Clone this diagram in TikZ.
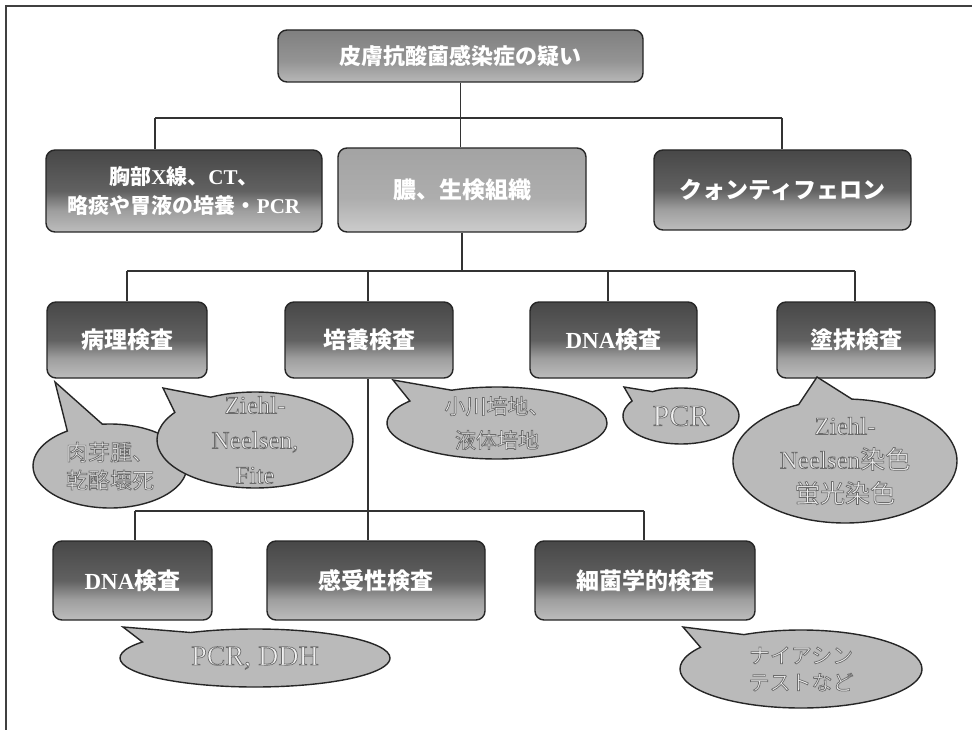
\documentclass[tikz,border=0pt]{standalone}
\usepackage{fontspec}
\setmainfont{Liberation Serif}
\newfontfamily\cjk{Noto Sans CJK JP}
\usetikzlibrary{shapes.callouts,shapes.geometric}
\newcommand\latb[1]{{\rmfamily\bfseries #1}}
\newcommand\cj[1]{{\cjk #1}}
\newcommand\outlon{\special{pdf:code q 2 Tr 0.7 w 0.42 G}}
\newcommand\outloff{\special{pdf:code Q}}
\pgfdeclareverticalshading{darkbox}{100bp}{color(0bp)=(black!26); color(25bp)=(black!26); color(38bp)=(black!38); color(50bp)=(black!62); color(75bp)=(black!72); color(100bp)=(black!72)}
\pgfdeclareverticalshading{topbox}{100bp}{color(0bp)=(black!28); color(25bp)=(black!28); color(45bp)=(black!42); color(75bp)=(black!50); color(100bp)=(black!50)}
\pgfdeclareverticalshading{midbox}{100bp}{color(0bp)=(black!20); color(25bp)=(black!20); color(45bp)=(black!32); color(75bp)=(black!36); color(100bp)=(black!36)}
\tikzset{
  box/.style={rounded corners=9pt, draw=black!85, line width=1.4pt, shade, shading=darkbox,
    text=white, align=center, inner sep=0pt,
    font=\cjk\bfseries\fontsize{23}{29}\selectfont},
  conn/.style={draw=black!80, line width=1.8pt},
  co/.style={ellipse callout, draw=black!85, line width=1.4pt, fill=black!27, inner sep=0pt, callout pointer arc=28},
  cotext/.style={align=center, inner sep=0pt, text=black!6},
}
\begin{document}
\begin{tikzpicture}[x=1pt,y=-1pt]
\useasboundingbox (0,0) rectangle (972,730);
\fill[white] (0,0) rectangle (972,730);
% frame
\draw[black!75, line width=1.5pt] (972,6) -- (6,6) -- (6,730);

% top
\node[box, shading=topbox, minimum width=365pt, minimum height=52pt, font=\cjk\bfseries\fontsize{22}{28}\selectfont] (T) at (460.5,56) {皮膚抗酸菌感染症の疑い};
% row 2
\node[box, minimum width=276pt, minimum height=82pt, font=\cjk\bfseries\fontsize{21}{29}\selectfont] (L) at (184,191) {胸部\latb{X}線、\latb{CT}、\\略痰や胃液の培養・\latb{PCR}};
\node[box, shading=midbox, minimum width=248pt, minimum height=84pt] (M) at (462,190) {膿、生検組織};
\node[box, minimum width=257pt, minimum height=80pt] (R) at (782.5,190) {クォンティフェロン};
% row 3
\node[box, minimum width=160pt, minimum height=76pt] (A) at (127,340) {病理検査};
\node[box, minimum width=168pt, minimum height=76pt] (B) at (369,340) {培養検査};
\node[box, minimum width=167pt, minimum height=76pt] (C) at (613.5,340) {\latb{DNA}検査};
\node[box, minimum width=158pt, minimum height=76pt] (D) at (856,340) {塗抹検査};
% row 4
\node[box, minimum width=159pt, minimum height=79pt] (E) at (132.5,580.5) {\latb{DNA}検査};
\node[box, minimum width=218pt, minimum height=79pt] (F) at (376,580.5) {感受性検査};
\node[box, minimum width=220pt, minimum height=79pt] (G) at (645,580.5) {細菌学的検査};

% connectors
\coordinate (j1) at (460.5,118);
\coordinate (j1l) at (155,118);
\coordinate (j1r) at (782,118);
\draw[conn] (T.south) -- (j1);
\draw[conn] (j1l) -- (j1r);
\draw[conn] (j1l) -- (j1l |- L.north);
\draw[conn] (j1) -- (j1 |- M.north);
\draw[conn] (j1r) -- (j1r |- R.north);

\coordinate (j2) at (462,271);
\coordinate (j2l) at (127,271);
\coordinate (j2r) at (855,271);
\coordinate (j2b) at (368,271);
\coordinate (j2c) at (608,271);
\draw[conn] (M.south) -- (j2);
\draw[conn] (j2l) -- (j2r);
\draw[conn] (j2l) -- (j2l |- A.north);
\draw[conn] (j2b) -- (j2b |- B.north);
\draw[conn] (j2c) -- (j2c |- C.north);
\draw[conn] (j2r) -- (j2r |- D.north);

\coordinate (j3) at (368,511);
\coordinate (j3l) at (135,511);
\coordinate (j3r) at (644,511);
\draw[conn] (j3 |- B.south) -- (j3);
\draw[conn] (j3l) -- (j3r);
\draw[conn] (j3l) -- (j3l |- E.north);
\draw[conn] (j3) -- (j3 |- F.north);
\draw[conn] (j3r) -- (j3r |- G.north);

% callouts
\node[co, minimum width=154pt, minimum height=84pt, callout absolute pointer={(55,382)}] (c1) at (110,466) {};
\node[cotext, font=\cjk\fontsize{22}{28}\selectfont] (t1) at (c1.center) {\outlon 肉芽腫、\\乾酪壊死\outloff};
\node[co, minimum width=196pt, minimum height=96pt, callout absolute pointer={(163,388)}] (c2) at (255,440) {};
\node[cotext, font=\fontsize{25}{35}\selectfont] (t2) at (c2.center) {\outlon Ziehl-\\Neelsen,\\Fite\outloff};
\node[co, minimum width=220pt, minimum height=72pt, callout absolute pointer={(393,380)}] (c3) at (497,423) {};
\node[cotext, font=\cjk\fontsize{21}{34}\selectfont] (t3) at (c3.center) {\outlon 小川培地、\\液体培地\outloff};
\node[co, minimum width=116pt, minimum height=56pt, callout absolute pointer={(624,387)}] (c4) at (681,416) {};
\node[cotext, font=\fontsize{30}{34}\selectfont] (t4) at (c4.center) {\outlon PCR\outloff};
\node[co, minimum width=224pt, minimum height=124pt, callout absolute pointer={(817,377)}] (c5) at (845,461) {};
\node[cotext, font=\fontsize{25}{34}\selectfont] (t5) at (c5.center) {\outlon Ziehl-\\Neelsen\cj{染色}\\\cj{蛍光染色}\outloff};
\node[co, minimum width=270pt, minimum height=58pt, callout absolute pointer={(123,627)}] (c6) at (255,658) {};
\node[cotext, font=\fontsize{28}{34}\selectfont] (t6) at (c6.center) {\outlon PCR, DDH\outloff};
\node[co, minimum width=242pt, minimum height=78pt, callout absolute pointer={(683,627)}] (c7) at (801,669) {};
\node[cotext, font=\cjk\fontsize{21}{27}\selectfont] (t7) at (c7.center) {\outlon ナイアシン\\テストなど\outloff};
\end{tikzpicture}
\end{document}
